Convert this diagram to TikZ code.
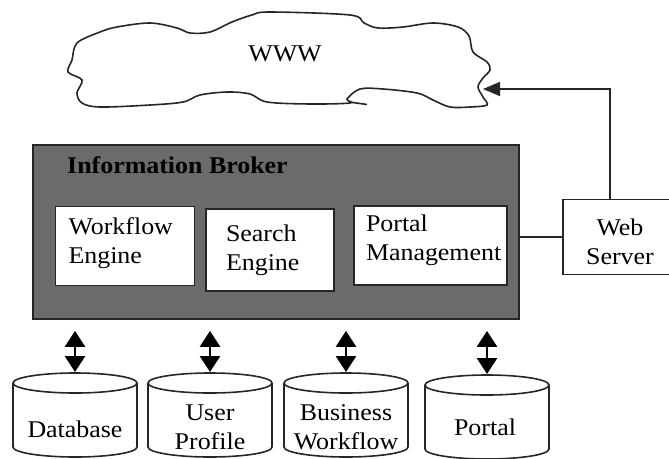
\documentclass[tikz,border=0pt]{standalone}
\usepackage{fontspec}
\setmainfont{Liberation Serif}[FakeStretch=1.08]
\usetikzlibrary{arrows.meta,calc}

\begin{document}
\begin{tikzpicture}[x=1pt, y=-1pt,
  every node/.style={font=\fontsize{24}{29}\selectfont},
  line/.style={line width=1.6pt, black!85},
  brokerbox/.style={draw=black!85, line width=1.8pt, fill=black!58},
  modbox/.style={draw=black!85, line width=1.8pt, fill=white, align=left,
    inner ysep=0pt},
  serverbox/.style={draw=black!85, line width=1.6pt, fill=white, align=center,
    minimum width=114pt, minimum height=75pt, inner sep=0pt},
  store/.style={inner sep=0pt, align=center},
  duplex/.style={line width=2.8pt, black,
    {Triangle[width=20pt,length=16pt]}-{Triangle[width=20pt,length=16pt]}},
]
\useasboundingbox (0,0) rectangle (669,458);

% the WWW cloud
\draw[line] plot[smooth cycle, tension=0.55] coordinates {
  (72,60) (77,43) (100,32) (117,27) (150,23) (177,28) (190,33) (210,32)
  (232,22) (252,15) (270,12) (350,15) (364,23) (378,28) (403,27) (433,23)
  (458,27) (469,36) (473,52) (487,62) (490,70) (483,78) (478,87) (483,97)
  (487,105) (470,107) (450,107) (433,100) (417,93) (383,89) (360,89)
  (347,99) (350,103) (310,104) (267,102) (250,94) (227,92) (200,95)
  (183,102) (150,105) (100,107) (82,103) (77,93) (82,80) (68,72)};
\draw[line] (349,102) -- (367,104.5);
\node (www) at (285,54) {WWW};
\coordinate (wwwin) at (483,89);
\coordinate (turn) at (610,89);

% the broker and its modules
\node[brokerbox, minimum width=486pt, minimum height=174pt, inner sep=0pt]
  (broker) at (276,232) {};
\node[anchor=base west, font=\fontsize{24}{28}\selectfont\bfseries, inner sep=0pt]
  (brokertitle) at (67,173) {Information Broker};

\node[modbox, minimum width=139pt, minimum height=79pt, text width=113pt, inner xsep=13pt]
  (wfe) at (125,246) {Workflow\\Engine\rule[-11pt]{0pt}{0pt}};
\node[modbox, minimum width=128pt, minimum height=82pt, text width=88pt, inner xsep=20pt]
  (se) at (270,250) {Search\\Engine};
\node[modbox, minimum width=153pt, minimum height=79pt, text width=129pt, inner xsep=12pt]
  (pm) at (430.5,245.5) {Portal\\Management\rule[-15pt]{0pt}{0pt}};

% web server
\node[serverbox] (ws) at (620,237) {\rule{0pt}{27pt}Web\\Server};

% data stores: outlines first, labels on top
\foreach \s/\cx/\cy in {db/75/415, up/210/415, bw/346/415, po/487/417} {
  \coordinate (\s top) at (\cx,\cy-32);
  \coordinate (\s in) at (\cx,\cy-43);
  \draw[line] (\cx-62,\cy-32) -- (\cx-62,\cy+32)
    arc[start angle=180, end angle=360, x radius=62pt, y radius=10pt]
    -- (\cx+62,\cy-32);
  \draw[line] (\s top) ellipse[x radius=62pt, y radius=10pt];
}
\node[store] (db) at (75,429) {Database};
\node[store] (up) at (210,427) {User\\Profile};
\node[store] (bw) at (346,427) {Business\\Workflow};
\node[store] (po) at (485,427) {Portal};

% connectors
\draw[line] (broker.east |- ws.west) -- (ws.west);
\draw[line, -{Triangle[width=14pt,length=17pt]}] (ws.north -| turn) -- (turn) -- (wwwin);

\foreach \s in {db,up,bw,po}
  \draw[duplex] ($(broker.south -| \s in)+(0,11)$) -- (\s in);
\end{tikzpicture}
\end{document}
